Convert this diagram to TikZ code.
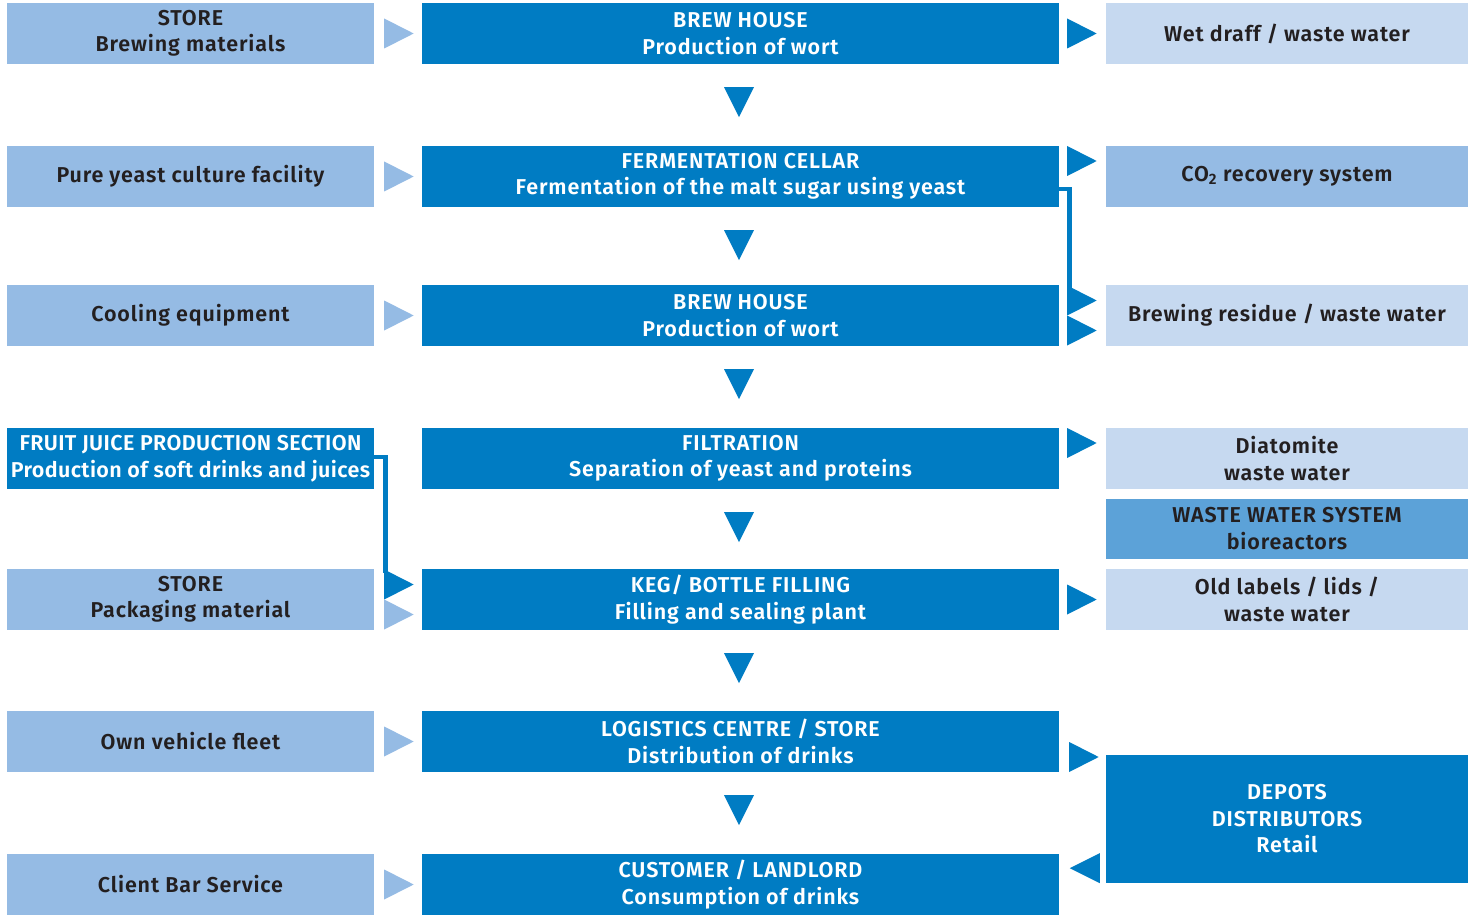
\documentclass[tikz,border=0pt]{standalone}
\usepackage{fontspec}
\setmainfont{Fira Sans}[UprightFont={* SemiBold}, LetterSpace=4]
\newfontfamily\tightfont{Fira Sans}[UprightFont={* SemiBold}, LetterSpace=1.8]
\usetikzlibrary{calc}
\definecolor{dk}{RGB}{0,124,195}
\definecolor{lt}{RGB}{149,187,228}
\definecolor{pl}{RGB}{198,217,240}
\definecolor{md}{RGB}{92,162,216}
\definecolor{tx}{RGB}{35,31,32}
\newcommand{\triR}[2]{\fill[#1] #2 ++(0,-15) -- ++(29.5,15) -- ++(-29.5,15) -- cycle;}
\newcommand{\triL}[2]{\fill[#1] #2 ++(0,-15) -- ++(-30,15) -- ++(30,15) -- cycle;}
\newcommand{\triD}[1]{\fill[dk] #1 ++(-15,0) -- ++(30,0) -- ++(-15,30) -- cycle;}
\begin{document}
\begin{tikzpicture}[x=1pt,y=-1pt,
  box/.style={rectangle, inner sep=0pt, align=center, font=\fontsize{21.5}{26.5}\selectfont, minimum height=61pt},
  lbox/.style={box, minimum width=367pt, fill=lt, text=tx},
  lboxd/.style={box, minimum width=367pt, fill=dk, text=white, font=\tightfont\fontsize{21.5}{26.5}\selectfont},
  cbox/.style={box, minimum width=637pt, fill=dk, text=white},
  rbox/.style={box, minimum width=362pt, fill=pl, text=tx},
  rboxl/.style={box, minimum width=362pt, fill=lt, text=tx},
  rboxm/.style={box, minimum width=362pt, minimum height=60pt, fill=md, text=tx},
  rboxd/.style={box, minimum width=362pt, minimum height=128pt, fill=dk, text=white},
  conn/.style={draw=dk, line width=4.5pt}
]
\useasboundingbox (0,0) rectangle (1468,915);
% left column
\node[lbox] (L1) at (190.5,33.5) {STORE\\Brewing materials};
\node[lbox] (L2) at (190.5,176.5) {Pure yeast culture facility};
\node[lbox] (L3) at (190.5,315.5) {Cooling equipment};
\node[lboxd] (L4) at (190.5,458.5) {FRUIT JUICE PRODUCTION SECTION\\Production of soft drinks and juices};
\node[lbox] (L5) at (190.5,599.5) {STORE\\Packaging material};
\node[lbox] (L6) at (190.5,741.5) {Own vehicle fleet};
\node[lbox] (L7) at (190.5,884.5) {Client Bar Service};
% centre column
\node[cbox] (C1) at (740.5,33.5) {BREW HOUSE\\Production of wort};
\node[cbox] (C2) at (740.5,176.5) {FERMENTATION CELLAR\\Fermentation of the malt sugar using yeast};
\node[cbox] (C3) at (740.5,315.5) {BREW HOUSE\\Production of wort};
\node[cbox] (C4) at (740.5,458.5) {FILTRATION\\Separation of yeast and proteins};
\node[cbox] (C5) at (740.5,599.5) {KEG/ BOTTLE FILLING\\Filling and sealing plant};
\node[cbox] (C6) at (740.5,741.5) {LOGISTICS CENTRE / STORE\\Distribution of drinks};
\node[cbox] (C7) at (740.5,884.5) {CUSTOMER / LANDLORD\\Consumption of drinks};
% right column
\node[rbox] (R1) at (1287,33.5) {Wet draff / waste water};
\node[rboxl] (R2) at (1287,176.5) {CO\textsubscript{2} recovery system};
\node[rbox] (R3) at (1287,315.5) {Brewing residue / waste water};
\node[rbox] (R4) at (1287,458.5) {Diatomite\\waste water};
\node[rboxm] (RW) at (1287,528.5) {WASTE WATER SYSTEM\\bioreactors};
\node[rbox] (R5) at (1287,599.5) {Old labels / lids /\\waste water};
\node[rboxd] (RD) at (1287,819) {DEPOTS\\DISTRIBUTORS\\Retail};
% connectors
\draw[conn] ($(C2.east)+(-1,12.5)$) -| ($(C3.east)+(10.5,-28)$);
\draw[conn] ($(L4.east)+(-1,-1.5)$) -| ($(L5.east)+(11.5,-27)$);
% left arrows
\triR{lt}{($(L1.east)+(10,0)$)}
\triR{lt}{($(L2.east)+(10,0)$)}
\triR{lt}{($(L3.east)+(10,0)$)}
\triR{dk}{($(L5.east)+(10,-15)$)}
\triR{lt}{($(L5.east)+(10,15)$)}
\triR{lt}{($(L6.east)+(10,0)$)}
\triR{lt}{($(L7.east)+(10,0)$)}
% right arrows
\triR{dk}{($(C1.east)+(8,0)$)}
\triR{dk}{($(C2.east)+(8,-15.5)$)}
\triR{dk}{($(C3.east)+(8,-15)$)}
\triR{dk}{($(C3.east)+(8,15)$)}
\triR{dk}{($(C4.east)+(8,-15.5)$)}
\triR{dk}{($(C5.east)+(8,0)$)}
\triR{dk}{($(C6.east)+(10,15.5)$)}
\triL{dk}{($(RD.south west)+(-6,-15)$)}
% down arrows
\triD{($(C1.south)+(-1.5,23)$)}
\triD{($(C2.south)+(-1.5,23)$)}
\triD{($(C3.south)+(-1.5,23)$)}
\triD{($(C4.south)+(-1.5,23)$)}
\triD{($(C5.south)+(-1.5,23)$)}
\triD{($(C6.south)+(-1.5,23)$)}
\end{tikzpicture}
\end{document}
